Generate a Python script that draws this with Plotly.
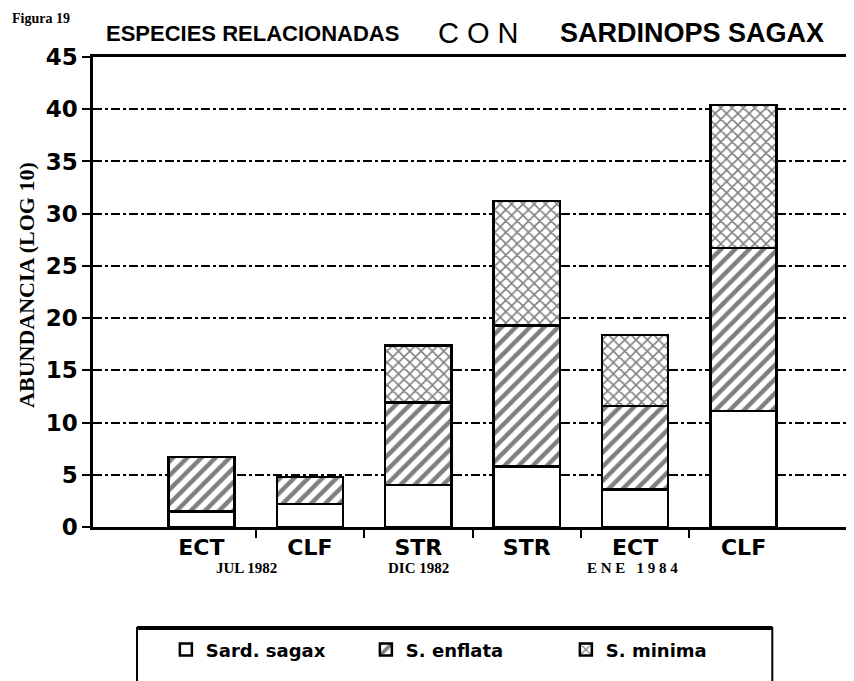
import plotly.graph_objects as go

# data (stacked, log10 abundance)
categories = ["ECT", "CLF", "STR", "STR", "ECT", "CLF"]
sard_sagax = [1.5, 2.2, 4.0, 5.8, 3.6, 11.1]
s_enflata = [5.2, 2.6, 7.9, 13.5, 8.0, 15.6]
s_minima = [None, None, 5.5, 11.9, 6.8, 13.7]
period_labels = ["JUL 1982", "DIC 1982", "E N E   1 9 8 4"]
period_pos = [0.42, 2.0, 3.98]
y_ticks = [0, 5, 10, 15, 20, 25, 30, 35, 40, 45]

xpos = list(range(len(categories)))

BOLD = "DejaVu Sans"
SERIF = "Liberation Serif"
SANS = "Liberation Sans"

line = dict(color="black", width=2.5)

fig = go.Figure()
fig.add_trace(go.Bar(
    x=xpos, y=sard_sagax, name="Sard. sagax", width=0.61,
    marker=dict(color="white", line=line),
))
fig.add_trace(go.Bar(
    x=xpos, y=s_enflata, name="S. enflata", width=0.61,
    marker=dict(color="white", line=line,
                pattern=dict(shape="/", fgcolor="black", bgcolor="white",
                             size=10, solidity=0.45)),
))
fig.add_trace(go.Bar(
    x=xpos, y=s_minima, name="S. minima", width=0.61,
    marker=dict(color="white", line=line,
                pattern=dict(shape="x", fgcolor="black", bgcolor="white",
                             size=8, solidity=0.35)),
))

# page body has an 8px margin, so the figure is 8px smaller than the window
fig.update_layout(
    barmode="stack",
    width=846, height=673,
    margin=dict(l=85, r=2, t=49, b=154),
    paper_bgcolor="white", plot_bgcolor="white",
    showlegend=True,
    legend=dict(
        orientation="h", traceorder="normal",
        x=0.096, xanchor="left", y=-0.222, yanchor="top",
        font=dict(family=BOLD, size=18, color="black", weight="bold"),
        entrywidth=155, entrywidthmode="pixels",
        bgcolor="rgba(0,0,0,0)", borderwidth=0,
    ),
)

fig.update_xaxes(
    range=[-1, 6], showgrid=False, zeroline=False,
    showline=True, linecolor="black", linewidth=2.5, mirror=True,
    tickmode="array", tickvals=xpos, ticktext=categories,
    ticks="outside", ticklen=9, tickcolor="rgba(0,0,0,0)",
    ticklabelstandoff=-10,
    tickfont=dict(family=BOLD, size=22, color="black", weight="bold"),
    minor=dict(tickmode="array", tickvals=[0.5, 1.5, 2.5, 3.5, 4.5],
               ticks="outside", ticklen=8, tickwidth=2, tickcolor="black"),
)
fig.update_yaxes(
    range=[0, 45], zeroline=False,
    showline=True, linecolor="black", linewidth=2.5,
    tickmode="array", tickvals=y_ticks,
    ticks="outside", ticklen=8, tickwidth=2, tickcolor="black",
    showgrid=True, gridcolor="black", gridwidth=1.5, griddash="dashdot",
    tickfont=dict(family=BOLD, size=23, color="black", weight="bold"),
)

# sub labels for the sampling periods
for txt, px in zip(period_labels, period_pos):
    fig.add_annotation(x=px, xref="x", y=-0.087, yref="paper", text=txt,
                       showarrow=False, xanchor="center", yanchor="middle",
                       font=dict(family=SERIF, size=15, color="black", weight="bold"))

# titles
fig.add_annotation(x=-0.11, xref="paper", y=1.082, yref="paper", text="Figura 19",
                   showarrow=False, xanchor="left", yanchor="middle",
                   font=dict(family=SERIF, size=14, color="black", weight="bold"))
fig.add_annotation(x=0.014, xref="paper", y=1.05, yref="paper",
                   text="ESPECIES RELACIONADAS", showarrow=False,
                   xanchor="left", yanchor="middle",
                   font=dict(family=SANS, size=22, color="black", weight="bold"))
fig.add_annotation(x=0.452, xref="paper", y=1.05, yref="paper",
                   text="C O N", showarrow=False,
                   xanchor="left", yanchor="middle",
                   font=dict(family=SANS, size=29, color="black"))
fig.add_annotation(x=0.966, xref="paper", y=1.05, yref="paper",
                   text="SARDINOPS SAGAX", showarrow=False,
                   xanchor="right", yanchor="middle",
                   font=dict(family=SANS, size=27, color="black", weight="bold"))
fig.add_annotation(x=-0.087, xref="paper", y=0.515, yref="paper",
                   text="ABUNDANCIA (LOG 10)", textangle=-90, showarrow=False,
                   xanchor="center", yanchor="middle",
                   font=dict(family=SERIF, size=22, color="black", weight="bold"))

# legend frame
fig.add_shape(type="rect", xref="paper", yref="paper",
              x0=0.058, x1=0.895, y0=-0.215, y1=-0.36,
              line=dict(color="black", width=2))
fig.add_shape(type="line", xref="paper", yref="paper",
              x0=0.058, x1=0.895, y0=-0.215, y1=-0.215,
              line=dict(color="black", width=4))

fig.write_html("out.html")
